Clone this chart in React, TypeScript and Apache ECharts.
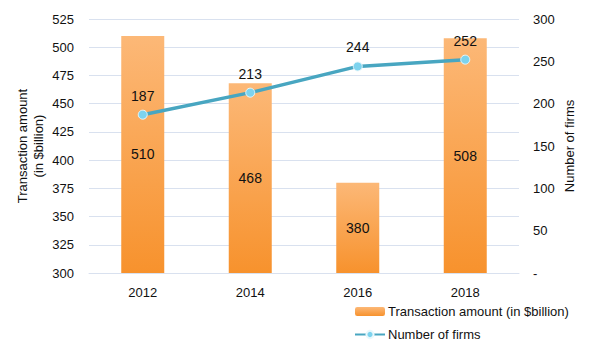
import React, { useEffect, useRef } from "react";
import * as echarts from "echarts";

const years = ["2012", "2014", "2016", "2018"];
const amounts = [510, 468, 380, 508];
const firms = [187, 213, 244, 252];

export default function App() {
  const ref = useRef<HTMLDivElement>(null);
  useEffect(() => {
    const chart = echarts.init(ref.current!, null, { renderer: "svg" });
    const font = "Liberation Sans, Arial, sans-serif";
    chart.setOption({
      animation: false,
      textStyle: { fontFamily: font },
      grid: { left: 89, right: 81, top: 19, bottom: 87 },
      legend: {
        orient: "vertical",
        left: 354,
        top: 305,
        padding: 0,
        itemWidth: 30,
        itemHeight: 9,
        itemGap: 10,
        textStyle: { fontFamily: font, fontSize: 13, color: "#111", padding: [0, 0, 0, -2] },
        data: ["Transaction amount (in $billion)", "Number of firms"],
      },
      xAxis: {
        type: "category",
        data: years,
        axisLine: { show: true, lineStyle: { color: "#D9E1EF" } },
        axisTick: { show: false },
        axisLabel: { color: "#111", fontSize: 13, margin: 13, fontFamily: font },
      },
      yAxis: [
        {
          type: "value",
          min: 300,
          max: 525,
          interval: 25,
          name: "Transaction amount\n(in $billion)",
          nameLocation: "middle",
          nameGap: 43,
          nameMoveOverlap: false,
          nameTextStyle: { color: "#111", fontSize: 13, fontFamily: font, lineHeight: 16 },
          axisLabel: { color: "#111", fontSize: 13, margin: 15, fontFamily: font },
          splitLine: { lineStyle: { color: "#D9E1EF" } },
          axisLine: { show: false },
          axisTick: { show: false },
        },
        {
          type: "value",
          min: 0,
          max: 300,
          interval: 50,
          name: "Number of firms",
          nameLocation: "middle",
          nameGap: 44,
          nameMoveOverlap: false,
          nameRotate: 90,
          nameTextStyle: { color: "#111", fontSize: 13, fontFamily: font },
          axisLabel: {
            color: "#111",
            fontSize: 13,
            margin: 14,
            fontFamily: font,
            formatter: (v: number) => (v === 0 ? "-" : String(v)),
          },
          splitLine: { show: false },
          axisLine: { show: false },
          axisTick: { show: false },
        },
      ],
      series: [
        {
          name: "Transaction amount (in $billion)",
          type: "bar",
          data: amounts,
          barWidth: "40%",
          itemStyle: {
            color: new echarts.graphic.LinearGradient(0, 0, 0, 1, [
              { offset: 0, color: "#FCB877" },
              { offset: 1, color: "#F7922D" },
            ]),
          },
          label: {
            show: true,
            position: "inside",
            color: "#111",
            fontSize: 14,
            fontFamily: font,
          },
          z: 1,
        },
        {
          name: "Number of firms",
          type: "line",
          yAxisIndex: 1,
          data: firms,
          symbol: "circle",
          symbolSize: 9,
          lineStyle: { color: "#48A6C1", width: 3.5 },
          itemStyle: { color: "#7DD3EE", borderColor: "#E8F8FC", borderWidth: 1 },
          label: {
            show: true,
            position: "top",
            distance: 7,
            color: "#111",
            fontSize: 14,
            fontFamily: font,
          },
          z: 3,
        },
      ],
    });
    return () => chart.dispose();
  }, []);
  return (
    <div
      ref={ref}
      style={{ position: "absolute", left: 0, top: 0, width: 600, height: 360 }}
    />
  );
}
